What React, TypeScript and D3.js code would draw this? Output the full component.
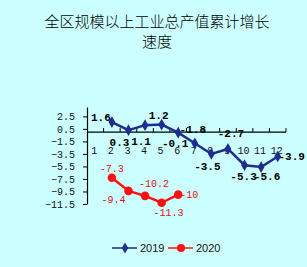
import React, { useRef, useEffect } from 'react';
import * as d3 from 'd3';

const months = ['1', '2', '3', '4', '5', '6', '7', '8', '9', '10', '11', '12'];
const yTicks = [2.5, 0.5, -1.5, -3.5, -5.5, -7.5, -9.5, -11.5];

const months2019 = ['2', '3', '4', '5', '6', '7', '8', '9', '10', '11', '12'];
const values2019 = [1.6, 0.3, 1.1, 1.2, -0.1, -1.8, -3.5, -2.7, -5.3, -5.6, -3.9];
const labels2019 = ['1.6', '0.3', '1.1', '1.2', '-0.1', '-1.8', '-3.5', '-2.7', '-5.3', '-5.6', '-3.9'];

const months2020 = ['2', '3', '4', '5', '6'];
const values2020 = [-7.3, -9.4, -10.2, -11.3, -10];
const labels2020 = ['-7.3', '-9.4', '-10.2', '-11.3', '-10'];

// label offsets from each point (dx, dy)
const offsets2019 = [[-11, -5], [-9, 11.5], [-4, 16], [-3, -9], [-3, 10], [-2, -14], [-4, 12], [3, -16], [-1, 11], [6, 9], [14, 0]];
const offsets2020 = [[0, -9], [-15, 9], [9, -12], [7, 10], [11, 0]];

export default function App() {
    const ref = useRef<SVGSVGElement>(null);

    useEffect(() => {
        const svg = d3.select(ref.current);
        svg.selectAll('*').remove();

        const width = 307;
        const height = 267;
        const navy = '#1f2d8c';
        const red = '#ff1010';
        const mono = '"Liberation Mono", "DejaVu Sans Mono", monospace';

        svg.attr('width', width).attr('height', height);
        svg.append('rect').attr('width', width).attr('height', height).attr('fill', '#ccffff');

        // title
        const title = svg.append('text')
            .attr('text-anchor', 'middle')
            .attr('font-family', '"Noto Sans CJK SC", sans-serif')
            .attr('font-size', 15)
            .attr('font-weight', 300)
            .attr('fill', '#000');
        title.append('tspan').attr('x', 157).attr('y', 27).text('全区规模以上工业总产值累计增长');
        title.append('tspan').attr('x', 157).attr('y', 47).text('速度');

        const x = d3.scaleBand().domain(months).range([87, 286]);
        const y = d3.scaleLinear().domain([-11.5, 4]).range([204, 107]);

        // y axis
        const yAxis = svg.append('g')
            .attr('transform', 'translate(87,0)')
            .call(d3.axisLeft(y).tickValues(yTicks).tickSize(4).tickSizeOuter(0).tickFormat(d3.format('.1f')));
        yAxis.select('.domain').attr('stroke', '#000').attr('stroke-width', 1.2);
        yAxis.selectAll('text').attr('font-family', mono).attr('font-size', 10).attr('fill', '#111').attr('x', -12);

        // x axis at zero: ticks at band edges pointing up
        const xg = svg.append('g');
        xg.append('line')
            .attr('x1', 87).attr('x2', 286)
            .attr('y1', y(0)).attr('y2', y(0))
            .attr('stroke', '#000').attr('stroke-width', 1.2);
        xg.selectAll('line.tick')
            .data(months)
            .join('line')
            .attr('class', 'tick')
            .attr('x1', d => (x(d) as number) + x.bandwidth())
            .attr('x2', d => (x(d) as number) + x.bandwidth())
            .attr('y1', y(0)).attr('y2', y(0) - 4)
            .attr('stroke', '#000');
        xg.selectAll('text')
            .data(months)
            .join('text')
            .attr('x', d => (x(d) as number) + x.bandwidth() / 2 - 1)
            .attr('y', y(0) + 22)
            .attr('text-anchor', 'middle')
            .attr('font-family', mono)
            .attr('font-size', 10)
            .attr('fill', '#111')
            .text(d => d);

        const cx = (m: string) => (x(m) as number) + x.bandwidth() / 2;

        const line = d3.line<[string, number]>()
            .x(d => cx(d[0]))
            .y(d => y(d[1]));

        // 2019 series
        const pts2019: [string, number][] = months2019.map((m, i) => [m, values2019[i]]);
        svg.append('path')
            .datum(pts2019)
            .attr('d', line)
            .attr('fill', 'none')
            .attr('stroke', navy)
            .attr('stroke-width', 2.5);
        svg.append('g')
            .selectAll('path')
            .data(pts2019)
            .join('path')
            .attr('d', d3.symbol(d3.symbolDiamond, 40))
            .attr('transform', d => `translate(${cx(d[0])},${y(d[1])})`)
            .attr('fill', navy);
        svg.append('g')
            .selectAll('text')
            .data(pts2019)
            .join('text')
            .attr('x', (d, i) => cx(d[0]) + offsets2019[i][0])
            .attr('y', (d, i) => y(d[1]) + offsets2019[i][1])
            .attr('dy', '0.35em')
            .attr('text-anchor', 'middle')
            .attr('font-family', mono)
            .attr('font-size', 11)
            .attr('font-weight', 'bold')
            .attr('fill', '#000')
            .text((d, i) => labels2019[i]);

        // 2020 series
        const pts2020: [string, number][] = months2020.map((m, i) => [m, values2020[i]]);
        svg.append('path')
            .datum(pts2020)
            .attr('d', line)
            .attr('fill', 'none')
            .attr('stroke', red)
            .attr('stroke-width', 2.5);
        svg.append('g')
            .selectAll('circle')
            .data(pts2020)
            .join('circle')
            .attr('cx', d => cx(d[0]))
            .attr('cy', d => y(d[1]))
            .attr('r', 4.3)
            .attr('fill', red);
        svg.append('g')
            .selectAll('text')
            .data(pts2020)
            .join('text')
            .attr('x', (d, i) => cx(d[0]) + offsets2020[i][0])
            .attr('y', (d, i) => y(d[1]) + offsets2020[i][1])
            .attr('dy', '0.35em')
            .attr('text-anchor', 'middle')
            .attr('font-family', mono)
            .attr('font-size', 10)
            .attr('fill', '#e01010')
            .text((d, i) => labels2020[i]);

        // legend
        const legend = svg.append('g').attr('transform', 'translate(0,248)');
        legend.append('line').attr('x1', 112).attr('x2', 137).attr('stroke', navy).attr('stroke-width', 1.5);
        legend.append('path').attr('d', d3.symbol(d3.symbolDiamond, 36)).attr('transform', 'translate(125,0)').attr('fill', navy);
        legend.append('text').attr('x', 140).attr('dy', '0.35em').attr('font-family', 'Arial, "Liberation Sans", sans-serif').attr('font-size', 11).attr('fill', '#111').text('2019');
        legend.append('line').attr('x1', 168).attr('x2', 193).attr('stroke', red).attr('stroke-width', 1.5);
        legend.append('circle').attr('cx', 181).attr('r', 4).attr('fill', red);
        legend.append('text').attr('x', 196).attr('dy', '0.35em').attr('font-family', 'Arial, "Liberation Sans", sans-serif').attr('font-size', 11).attr('fill', '#111').text('2020');
    }, []);

    return <svg ref={ref} style={{ position: 'absolute', left: 0, top: 0 }} />;
}
